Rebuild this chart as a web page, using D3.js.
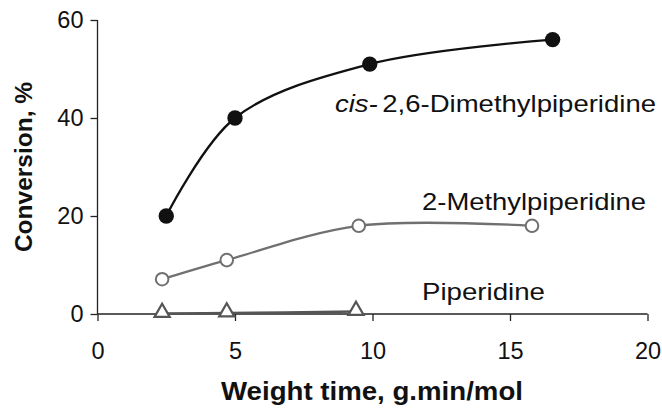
<!DOCTYPE html>
<html>
<head>
<meta charset="utf-8">
<script src="https://cdn.jsdelivr.net/npm/d3@7"></script>
<style>
  html, body { margin: 0; padding: 0; background: #fff; }
  svg { display: block; font-family: "Liberation Sans", Arial, Helvetica, sans-serif; }
</style>
</head>
<body>
<svg id="chart" width="662" height="414"></svg>
<script>
// ---- data ----
const xTicks = [0, 5, 10, 15, 20];
const yTicks = [0, 20, 40, 60];
const cisX = [2.5, 5.0, 9.9, 16.55];
const cisY = [20, 40, 51, 56];
const methylX = [2.35, 4.7, 9.5, 15.8];
const methylY = [7.1, 11.0, 18.0, 18.0];
const pipX = [2.35, 4.7, 9.4];
const pipY = [0.1, 0.2, 0.5];
const xTitle = "Weight time, g.min/mol";
const yTitle = "Conversion, %";

// ---- layout ----
const svg = d3.select("#chart");
const x = d3.scaleLinear().domain([0, 20]).range([97.5, 647.5]);
const y = d3.scaleLinear().domain([0, 60]).range([314, 20]);

const xAxis = svg.append("g").attr("transform", "translate(0,314)")
  .call(d3.axisBottom(x).tickValues(xTicks).tickSize(7).tickPadding(21));
const yAxis = svg.append("g").attr("transform", "translate(97.5,0)")
  .call(d3.axisLeft(y).tickValues(yTicks).tickSize(7).tickPadding(7));
[xAxis, yAxis].forEach(a => {
  a.selectAll("path").attr("stroke", "#222").attr("stroke-width", 1.3);
  a.selectAll("line").attr("stroke", "#222").attr("stroke-width", 1.3);
  a.selectAll("text").attr("font-size", 23.5).attr("fill", "#111")
    .attr("font-family", "'Liberation Sans', Arial, sans-serif");
});
xAxis.select(".domain").attr("d", `M${x(0)},0H${x(20)}`);
yAxis.select(".domain").attr("d", `M0,${y(60)}V${y(0)}`);

// titles
svg.append("text").attr("x", 372).attr("y", 400).attr("text-anchor", "middle")
  .attr("font-weight", "bold").attr("font-size", 25).attr("fill", "#111")
  .attr("textLength", 302).attr("lengthAdjust", "spacingAndGlyphs").text(xTitle);
svg.append("text").attr("transform", `translate(32,${167}) rotate(-90)`)
  .attr("text-anchor", "middle").attr("font-weight", "bold").attr("font-size", 24.5)
  .attr("fill", "#111").text(yTitle);

const line = d3.line().x(d => x(d[0])).y(d => y(d[1])).curve(d3.curveCatmullRom.alpha(0.5));
const zip = (a, b) => a.map((v, i) => [v, b[i]]);

// piperidine
const pip = zip(pipX, pipY);
svg.append("path").datum(pip).attr("d", line).attr("fill", "none")
  .attr("stroke", "#555").attr("stroke-width", 2.5);
const tri = d3.symbol().type(d3.symbolTriangle).size(100);
svg.selectAll(".tri").data(pip).enter().append("path")
  .attr("transform", d => `translate(${x(d[0])},${y(d[1]) - 1})`)
  .attr("d", tri).attr("fill", "#fff").attr("stroke", "#555").attr("stroke-width", 2.2);

// 2-methylpiperidine
const met = zip(methylX, methylY);
svg.append("path").datum(met).attr("d", line).attr("fill", "none")
  .attr("stroke", "#707070").attr("stroke-width", 2.3);
svg.selectAll(".met").data(met).enter().append("circle")
  .attr("cx", d => x(d[0])).attr("cy", d => y(d[1])).attr("r", 6.3)
  .attr("fill", "#fff").attr("stroke", "#707070").attr("stroke-width", 2);

// cis-2,6-dimethylpiperidine
const cis = zip(cisX, cisY);
svg.append("path").datum(cis).attr("d", line).attr("fill", "none")
  .attr("stroke", "#111").attr("stroke-width", 2.3);
svg.selectAll(".cis").data(cis).enter().append("circle")
  .attr("cx", d => x(d[0])).attr("cy", d => y(d[1])).attr("r", 7.7)
  .attr("fill", "#111");

// labels
const lab1 = svg.append("text").attr("x", 335).attr("y", 111.5).attr("font-size", 24.5)
  .attr("fill", "#111").attr("textLength", 321).attr("lengthAdjust", "spacingAndGlyphs");
lab1.append("tspan").attr("font-style", "italic").text("cis-");
lab1.append("tspan").attr("dx", 4).text("2,6-Dimethylpiperidine");
svg.append("text").attr("x", 422).attr("y", 209.5).attr("font-size", 24.5).attr("fill", "#111")
  .attr("textLength", 224).attr("lengthAdjust", "spacingAndGlyphs").text("2-Methylpiperidine");
svg.append("text").attr("x", 422).attr("y", 300).attr("font-size", 24.5).attr("fill", "#111")
  .attr("textLength", 123).attr("lengthAdjust", "spacingAndGlyphs").text("Piperidine");
</script>
</body>
</html>
